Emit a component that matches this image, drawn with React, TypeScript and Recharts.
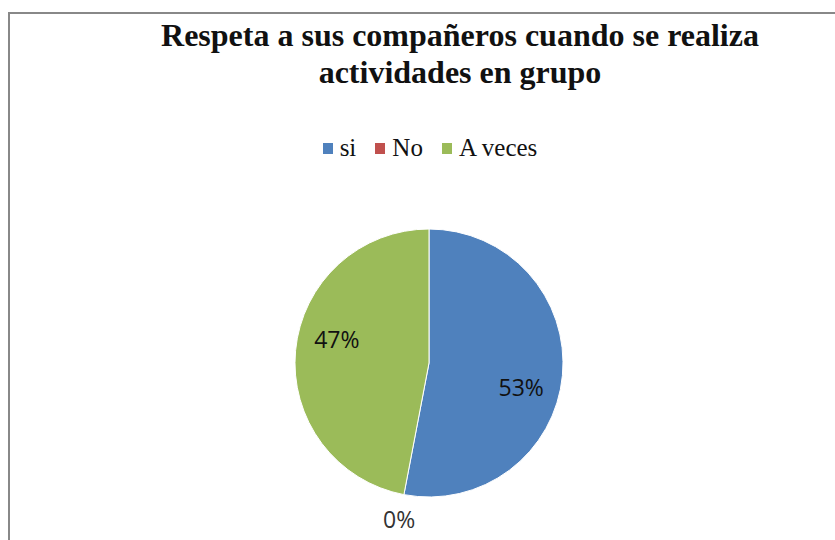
import { PieChart, Pie, Cell, Legend } from "recharts";

const categories = ["si", "No", "A veces"];
const values = [53, 0, 47];
const COLORS = ["#4F81BD", "#C0504D", "#9BBB59"];

const data = categories.map((name, i) => ({ name, value: values[i] }));

const RAD = Math.PI / 180;

// Excel "best fit" labels sit a little clockwise of the slice middle
function renderLabel(props: any) {
  const { cx, cy, midAngle, outerRadius, percent } = props;
  const outside = percent === 0;
  const r = outside ? outerRadius + 25 : outerRadius * 0.71;
  const a = outside ? midAngle : midAngle - 9;
  const x = cx + r * Math.cos(-a * RAD);
  const y = cy + r * Math.sin(-a * RAD);
  return (
    <text
      x={x}
      y={y}
      textAnchor="middle"
      dominantBaseline="central"
      fill={outside ? "#333" : "#111"}
      fontFamily="'Open Sans', sans-serif"
      fontSize={23}
    >
      {`${Math.round(percent * 100)}%`}
    </text>
  );
}

function LegendContent() {
  return (
    <div
      style={{
        display: "flex",
        justifyContent: "center",
        alignItems: "center",
        fontFamily: "'Liberation Serif', serif",
        fontSize: 25,
        color: "#111",
      }}
    >
      {data.map((d, i) => (
        <span
          key={d.name}
          style={{ display: "flex", alignItems: "center", marginRight: i < 2 ? 19 : 0 }}
        >
          <span
            style={{
              width: 10,
              height: 11,
              background: COLORS[i],
              display: "inline-block",
              marginRight: 7,
            }}
          />
          {d.name}
        </span>
      ))}
    </div>
  );
}

export default function App() {
  return (
    <div
      style={{
        position: "absolute",
        left: 0,
        top: 0,
        width: 835,
        height: 540,
        overflow: "hidden",
        background: "#fff",
      }}
    >
      <div
        style={{
          position: "absolute",
          left: 8,
          top: 12,
          width: 900,
          height: 600,
          border: "2px solid #888",
          boxSizing: "border-box",
        }}
      />
      <div
        style={{
          position: "absolute",
          left: 0,
          top: 17,
          width: 920,
          textAlign: "center",
          fontFamily: "'Liberation Serif', serif",
          fontWeight: "bold",
          fontSize: 32,
          lineHeight: "37px",
          color: "#111",
        }}
      >
        Respeta a sus compañeros cuando se realiza
        <br />
        actividades en grupo
      </div>
      <PieChart width={835} height={540} style={{ position: "absolute", left: 0, top: 0 }}>
        <Legend
          verticalAlign="top"
          align="left"
          content={<LegendContent />}
          wrapperStyle={{ top: 134, left: 0, width: 860 }}
        />
        <Pie
          data={data}
          dataKey="value"
          nameKey="name"
          cx={424}
          cy={330}
          outerRadius={134}
          startAngle={90}
          endAngle={-270}
          stroke="#fff"
          strokeWidth={1}
          label={renderLabel}
          labelLine={false}
          isAnimationActive={false}
        >
          {data.map((_, idx) => (
            <Cell key={idx} fill={COLORS[idx]} />
          ))}
        </Pie>
      </PieChart>
    </div>
  );
}
